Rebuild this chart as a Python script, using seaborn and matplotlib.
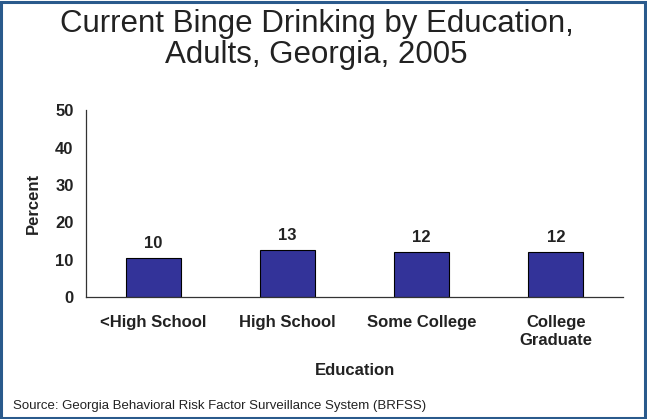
import matplotlib
matplotlib.use("Agg")
import matplotlib.pyplot as plt
import matplotlib.patches as mpatches
import seaborn as sns
import pandas as pd
import numpy as np

# data
categories = ["<High School", "High School", "Some College", "College\nGraduate"]
percent = [10.4, 12.6, 12.1, 12.1]
bar_labels = ["10", "13", "12", "12"]
y_ticks = [0, 10, 20, 30, 40, 50]

BAR_COLOR = "#333399"
BORDER_COLOR = "#2A5A8C"
TXT = "#222222"
FS = 12

sns.set_theme(style="white")
plt.rcParams['font.family'] = ['Liberation Sans', 'DejaVu Sans']

df = pd.DataFrame({"Education": categories, "Percent": percent})

fig = plt.figure(figsize=(6.47, 4.19), dpi=100)
ax = fig.add_axes([0.133, 0.291, 0.830, 0.446])

sns.barplot(data=df, x="Education", y="Percent", color=BAR_COLOR, saturation=1,
            width=0.41, edgecolor="black", linewidth=0.8, ax=ax)

for i, (v, lab) in enumerate(zip(percent, bar_labels)):
    ax.annotate(lab, (i, v), xytext=(0, 5), textcoords="offset points",
                ha="center", va="bottom", fontsize=FS, fontweight="bold", color=TXT)

ax.set_ylim(0, 50)
ax.set_yticks(y_ticks)
ax.set_xlim(-0.5, len(categories) - 0.5)

# ticks sit between categories on x
ax.set_xticks(np.arange(len(categories)))
ax.set_xticklabels(categories, fontsize=FS, fontweight="bold", color=TXT, linespacing=1.25)
ax.set_xticks(np.arange(-0.5, len(categories)), minor=True)
ax.tick_params(axis="x", which="major", length=0, pad=13)
ax.tick_params(axis="x", which="minor", length=5, width=0.8, color="#333333", direction="out")
ax.tick_params(axis="y", length=5, width=0.8, color="#333333", direction="out", pad=4)
for t in ax.get_yticklabels():
    t.set_fontsize(FS)
    t.set_fontweight("bold")
    t.set_color(TXT)

ax.set_xlabel("Education", fontsize=FS, fontweight="bold", color=TXT, labelpad=11)
ax.set_ylabel("Percent", fontsize=FS, fontweight="bold", color=TXT, labelpad=10)

for s in ["top", "right"]:
    ax.spines[s].set_visible(False)
for s in ["left", "bottom"]:
    ax.spines[s].set_color("#333333")
    ax.spines[s].set_linewidth(0.9)
ax.grid(False)

fig.text(0.489, 0.978, "Current Binge Drinking by Education,\nAdults, Georgia, 2005",
         ha="center", va="top", fontsize=22.5, linespacing=1.03, color=TXT)
fig.text(0.02, 0.03, "Source: Georgia Behavioral Risk Factor Surveillance System (BRFSS)",
         ha="left", va="center", fontsize=9.5, color=TXT)

# frame around the whole slide
fig.patches.append(mpatches.Rectangle((0.002, 0.003), 0.995, 0.993, transform=fig.transFigure,
                                      fill=False, edgecolor=BORDER_COLOR, linewidth=2.2))

fig.savefig("out.png", dpi=100)
